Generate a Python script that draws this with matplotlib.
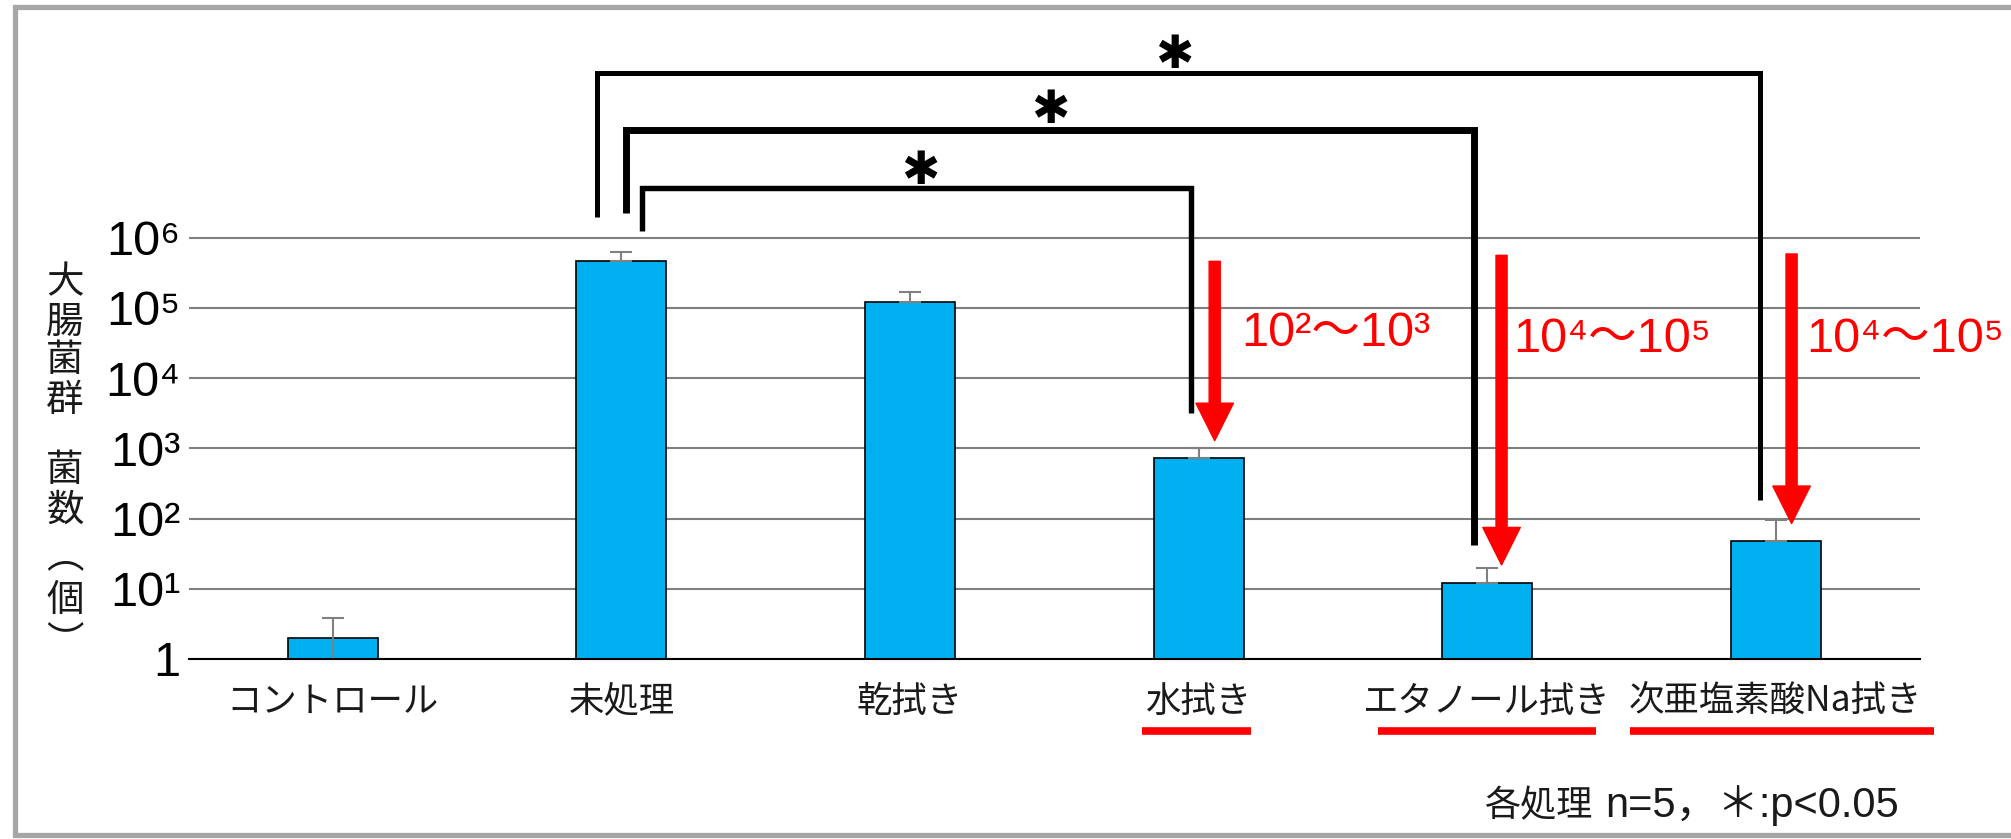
import matplotlib
matplotlib.use('Agg')
import matplotlib.pyplot as plt
from matplotlib import font_manager
from matplotlib.transforms import blended_transform_factory
from matplotlib.lines import Line2D

names = set(f.name for f in font_manager.fontManager.ttflist)
narrow = 'Liberation Sans Narrow' if 'Liberation Sans Narrow' in names else 'Liberation Sans'
cjk = 'Noto Sans CJK JP'
plt.rcParams['font.family'] = [cjk, 'DejaVu Sans']

# data
categories = ['コントロール', '未処理', '乾拭き', '水拭き', 'エタノール拭き', '次亜塩素酸Na拭き']
counts = [2.0, 4.6e5, 1.2e5, 740, 11.9, 48]
err_up = [1.9, 1.7e5, 0.5e5, 260, 8.1, 49]
err_lo = [1.9, 0, 0, 0, 0, 0]
ytick_vals = [1, 1e1, 1e2, 1e3, 1e4, 1e5, 1e6]
ytick_labels = ['1', '10¹', '10²', '10³', '10⁴', '10⁵', '10⁶']

# significance brackets: left x, right x, top, left end, right end, line width
br_left = [0.915, 1.015, 1.07]
br_right = [4.946, 3.954, 2.975]
br_top = [10**8.35, 10**7.54, 10**6.71]
br_left_end = [10**6.29, 10**6.36, 10**6.09]
br_right_end = [10**2.26, 10**1.62, 10**3.5]
br_lw = [3.6, 5.0, 3.9]
star_x = [2.915, 2.485, 2.035]
star_y = [10**8.6, 10**7.82, 10**6.94]

# red reduction arrows
arr_x = [3.056, 4.05, 5.055]
arr_from = [10**5.665, 10**5.75, 10**5.77]
arr_to = [10**3.11, 10**1.34, 10**1.93]
red_labels = ['10²～10³', '10⁴～10⁵', '10⁴～10⁵']
red_x = [3.147, 4.089, 5.105]
red_y = [10**4.64, 10**4.55, 10**4.55]
underline_x = [(2.804, 3.181), (3.621, 4.377), (4.494, 5.548)]

W, H = 2011, 839
fig = plt.figure(figsize=(W / 100, H / 100), dpi=100)
fig.patch.set_facecolor('white')
ax = fig.add_axes([188.5 / W, 1 - 659 / H, 1731.5 / W, 8.8 * 70.2 / H])

x = list(range(len(categories)))
ax.bar(x, counts, width=0.312, color='#00B0F0', edgecolor='black', linewidth=1.2, zorder=3)
ax.errorbar(x, counts, yerr=[err_lo, err_up], fmt='none', ecolor='#808080',
            elinewidth=1.5, capsize=8, capthick=1.5, zorder=4)

ax.set_yscale('log')
ax.set_ylim(1, 10**8.8)
ax.set_xlim(-0.5, 5.5)
ax.set_yticks(ytick_vals)
ax.set_yticklabels(ytick_labels)
ax.minorticks_off()
ax.yaxis.grid(True, color='#7f7f7f', linewidth=1.5, zorder=0)
ax.set_axisbelow(True)
for s in ['top', 'left', 'right']:
    ax.spines[s].set_visible(False)
ax.spines['bottom'].set_color('black')
ax.spines['bottom'].set_linewidth(1.5)
ax.spines['bottom'].set_zorder(5)
ax.tick_params(axis='y', length=0, pad=6)
ax.tick_params(axis='x', length=0, pad=18)
for t in ax.get_yticklabels():
    t.set_fontfamily([narrow, 'DejaVu Sans'])
    t.set_fontsize(35)
ax.set_xticks(x)
ax.set_xticklabels(categories, fontsize=25.5, color='#1a1a1a')

for i in range(3):
    ax.plot([br_left[i], br_left[i], br_right[i], br_right[i]],
            [br_left_end[i], br_top[i], br_top[i], br_right_end[i]],
            color='black', linewidth=br_lw[i], solid_joinstyle='miter',
            solid_capstyle='butt', zorder=6)
    ax.text(star_x[i], star_y[i], '✱', fontsize=33, family='DejaVu Sans',
            ha='center', va='center', zorder=7)

for i in range(3):
    ax.annotate('', xy=(arr_x[i], arr_to[i]), xytext=(arr_x[i], arr_from[i]),
                arrowprops=dict(arrowstyle='simple,head_length=27,head_width=27,tail_width=8',
                                mutation_scale=1, color='#FF0000', shrinkA=0, shrinkB=0),
                zorder=8)
    ax.text(red_x[i], red_y[i], red_labels[i], color='#FF0000', fontsize=35,
            family=[narrow, cjk, 'DejaVu Sans'], ha='left', va='center', zorder=8, clip_on=False)

trans = blended_transform_factory(ax.transData, fig.transFigure)
for x0, x1 in underline_x:
    ax.add_line(Line2D([x0, x1], [1 - 731 / H, 1 - 731 / H], transform=trans,
                       color='#FF0000', linewidth=5.5, solid_capstyle='butt', clip_on=False))

# vertical y-axis title (vertical-form parentheses)
ylab_chars = ['大', '腸', '菌', '群', '菌', '数', '︵', '個', '︶']
ylab_py = [283, 322, 361, 400, 470, 510, 557, 600, 643]
for ch, py in zip(ylab_chars, ylab_py):
    fig.text(65 / W, 1 - py / H, ch, fontsize=27, ha='center', va='center', color='#1a1a1a')

# footnote
note = fig.text(1899 / W, 1 - 806 / H, 'n=5，＊:p<0.05', fontsize=30,
                family=['Liberation Sans', cjk], ha='right', va='center', color='#1a1a1a')
fig.canvas.draw()
bb = note.get_window_extent()
fig.text((bb.x0 - 12) / W, 1 - 806 / H, '各処理', fontsize=26, ha='right', va='center',
         color='#1a1a1a')

# grey frame (open on the right)
fig.add_artist(Line2D([W + 10, 14.5, 14.5, W + 10], [H - 6.5, H - 6.5, H - 834.5, H - 834.5],
                      transform=None, color='#A6A6A6', linewidth=3.8,
                      solid_joinstyle='miter'))

fig.savefig('out.png', dpi=100, facecolor='white')
